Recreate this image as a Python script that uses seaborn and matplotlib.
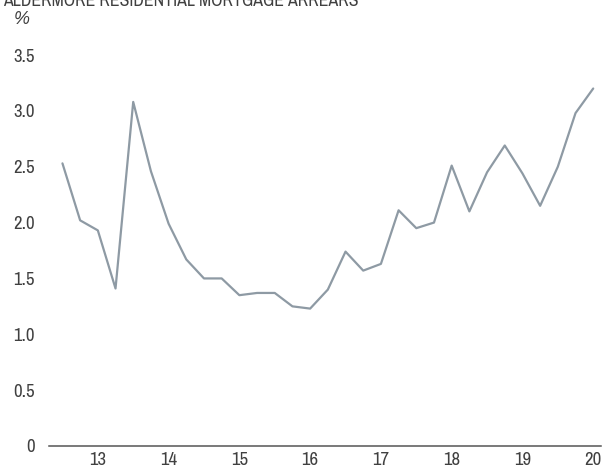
import matplotlib
matplotlib.use("Agg")
import matplotlib.pyplot as plt
from matplotlib import font_manager
import seaborn as sns
import pandas as pd

# Quarterly residential mortgage arrears, %
quarters = [12.5 + 0.25 * i for i in range(31)]
arrears = [2.53, 2.02, 1.93, 1.41, 3.08, 2.46, 1.99, 1.67, 1.50, 1.50,
           1.35, 1.37, 1.37, 1.25, 1.23, 1.40, 1.74, 1.57, 1.63, 2.11,
           1.95, 2.00, 2.51, 2.10, 2.45, 2.69, 2.44, 2.15, 2.50, 2.98,
           3.20]
year_ticks = [13, 14, 15, 16, 17, 18, 19, 20]
year_labels = ["13", "14", "15", "16", "17", "18", "19", "20"]
y_ticks = [0, 0.5, 1.0, 1.5, 2.0, 2.5, 3.0, 3.5]
y_labels = ["0", "0.5", "1.0", "1.5", "2.0", "2.5", "3.0", "3.5"]
title = "ALDERMORE RESIDENTIAL MORTGAGE ARREARS"

sns.set_theme(style="white")
names = sorted({f.name for f in font_manager.fontManager.ttflist})
narrow = [n for n in names if "Narrow" in n or "Condensed" in n]
family = narrow[0] if narrow else "Liberation Sans"
plt.rcParams["font.family"] = [family, "DejaVu Sans"]

text_color = "#404040"
line_color = "#8e9aa4"

df = pd.DataFrame({"quarter": quarters, "arrears": arrears})

fig = plt.figure(figsize=(6.05, 4.67), dpi=100)
ax = fig.add_axes([49 / 605, 21 / 467, 552 / 605, 391 / 467])

sns.lineplot(data=df, x="quarter", y="arrears", ax=ax, color=line_color,
             linewidth=1.6)

ax.set_xlim(12.31, 20.11)
ax.set_ylim(0, 3.5)
ax.set_xticks(year_ticks)
ax.set_xticklabels(year_labels)
ax.set_yticks(y_ticks)
ax.set_yticklabels(y_labels)
tick_size = 13.5 if narrow else 12.5
ax.tick_params(axis="both", length=0, labelsize=tick_size, colors=text_color)
ax.tick_params(axis="y", pad=10)
ax.tick_params(axis="x", pad=4)
for lbl in ax.get_yticklabels():
    lbl.set_y(-0.01)
ax.set_xlabel("")
ax.set_ylabel("")

for side in ["top", "right", "left"]:
    ax.spines[side].set_visible(False)
ax.spines["bottom"].set_color("#555555")
ax.spines["bottom"].set_linewidth(1.1)

title_size = 12.8 if narrow else 10.5
fig.text(3 / 605, 1 - 5.5 / 467, title, fontsize=title_size, color=text_color,
         ha="left", va="baseline")
fig.text(14 / 605, 1 - 20 / 467, "%", fontsize=13, color=text_color,
         ha="left", va="center", style="italic",
         family=["Liberation Sans", "DejaVu Sans"])

fig.savefig("out.png", dpi=100)
